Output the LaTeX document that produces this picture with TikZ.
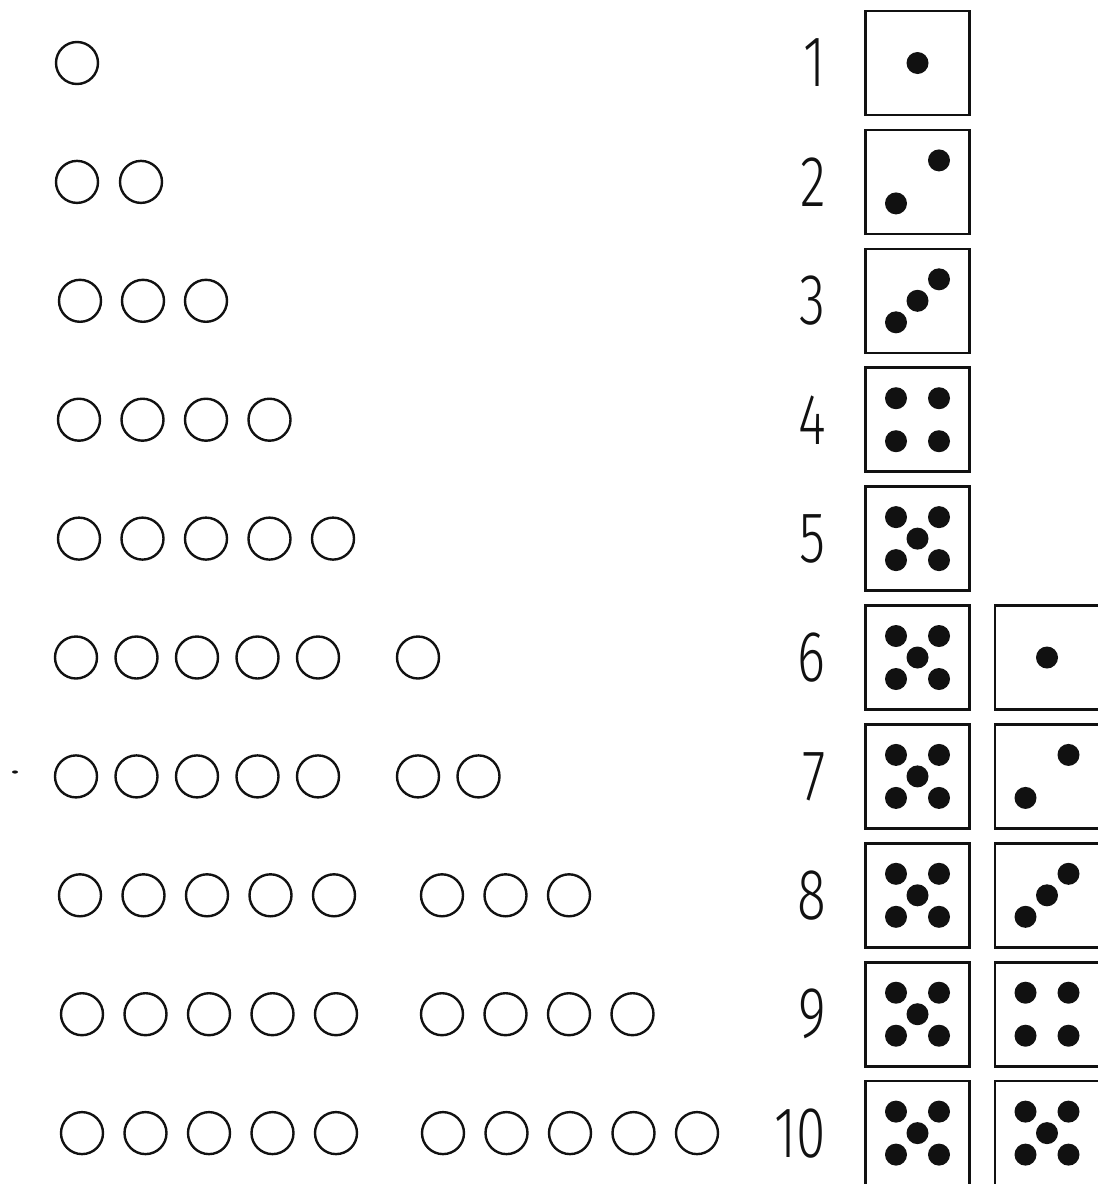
\documentclass[tikz,border=0pt]{standalone}
\usepackage{fontspec}
\usetikzlibrary{calc,positioning}
\newfontfamily\numfont{Fira Sans Light}[FakeStretch=0.74]
\definecolor{ink}{HTML}{111111}

\tikzset{
  ring/.style={circle,draw=ink,line width=2.4pt,minimum size=42pt,inner sep=0pt},
  die/.style={draw=ink,line width=2.6pt,minimum size=104pt,inner sep=0pt},
  numeral/.style={anchor=east,inner sep=0pt,text=ink,font=\numfont\fontsize{72}{72}\selectfont}
}
% pips of a die face: node name, count
\newcommand\pipface[2]{%
  \edef\piplist{\ifcase#2\or 0/0\or 1/-1,-1/1\or -1/1,0/0,1/-1\or -1/-1,1/-1,-1/1,1/1\or -1/-1,1/-1,0/0,-1/1,1/1\fi}%
  \foreach \u/\v in \piplist {\fill[ink] ($(#1)+(21.5*\u,21.5*\v)$) circle (11pt);}}

\begin{document}
\begin{tikzpicture}[x=1pt,y=-1pt]
\useasboundingbox (0,0) rectangle (1098,1184);
\fill[white] (0,0) rectangle (1098,1184);
\clip (0,0) rectangle (1098,1184);

% rows of rings: row / first x / pitch / first x of second group
\foreach \n/\xa/\p/\xb in {1/77/64/0, 2/77/64/0, 3/80/63/0, 4/79/63.5/0, 5/79/63.5/0,
    6/76/60.5/418, 7/76/60.5/418, 8/80/63.5/442, 9/82/63.5/442, 10/82/63.5/443} {
  \pgfmathsetmacro\ry{63+118.9*(\n-1)}
  \pgfmathtruncatemacro\ka{min(\n,5)}
  \foreach \i in {1,...,\ka} \node[ring] (ring-\n-\i) at (\xa+\p*\i-\p,\ry) {};
  \ifnum\n>5
    \pgfmathtruncatemacro\kb{\n-5}
    \foreach \i in {1,...,\kb} \node[ring] (ringb-\n-\i) at (\xb+\p*\i-\p,\ry) {};
  \fi
}

% numerals and dice
\foreach \n in {1,...,10} {
  \pgfmathsetmacro\ry{63+118.9*(\n-1)}
  \pgfmathtruncatemacro\fa{min(\n,5)}
  \pgfmathtruncatemacro\fb{\n-5}
  \node[numeral] (num-\n) at (826,\ry) {\n};
  \node[die] (dieA-\n) at (917.5,\ry) {};
  \pipface{dieA-\n}{\fa}
  \ifnum\fb>0
    \node[die] (dieB-\n) at (1047,\ry) {};
    \pipface{dieB-\n}{\fb}
  \fi
}

% stray speck left of row 7
\coordinate (speck) at (15,772);
\fill[ink] (speck) ellipse (3pt and 1.6pt);
\end{tikzpicture}
\end{document}
